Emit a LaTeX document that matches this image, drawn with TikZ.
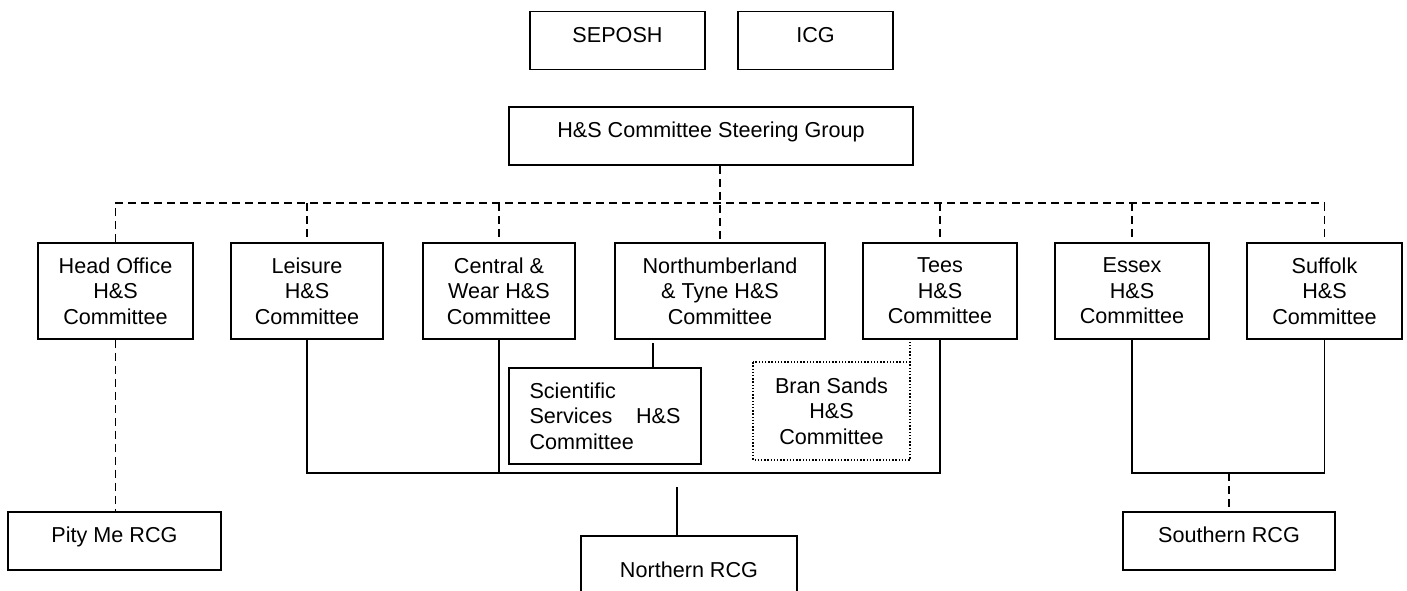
\documentclass[tikz,border=0pt]{standalone}
\usepackage{fontspec}
\setmainfont{Liberation Sans}
\usepackage{tikz}
\usetikzlibrary{calc}

\begin{document}
\begin{tikzpicture}[x=0.5pt,y=-0.5pt,line width=0.9pt,
  box/.style={draw,rectangle,align=center,inner sep=0pt,font=\fontsize{10.8}{12.8}\selectfont},
  cttee/.style={box,minimum width=#1,minimum height=48pt},
  rcg/.style={box,minimum width=#1,minimum height=29pt,text depth=6pt},
  dash line/.style={dash pattern=on 4pt off 2.5pt},
  dot line/.style={line width=0.7pt,dash pattern=on 0.7pt off 0.9pt}]
\useasboundingbox (0,0) rectangle (1407,590);
\node[rcg=87.5pt] (seposh) at (617.5,40.5) {SEPOSH};
\node[rcg=77.5pt] (icg) at (815.5,40.5) {ICG};
\node[rcg=202pt] (steer) at (711,136) {H\&S Committee Steering Group};
\node[cttee=77.5pt] (head) at (115.5,291) {Head Office\\H\&S\\Committee};
\node[cttee=76pt] (leisure) at (307,291) {Leisure\\H\&S\\Committee};
\node[cttee=76pt] (central) at (499,291) {Central \&\\Wear H\&S\\Committee};
\node[cttee=105pt] (north) at (720,291) {Northumberland\\\& Tyne H\&S\\Committee};
\node[cttee=77pt] (tees) at (940,291) {Tees\\H\&S\\Committee};
\node[cttee=77pt] (essex) at (1132,291) {Essex\\H\&S\\Committee};
\node[cttee=77.5pt] (suffolk) at (1324.5,291) {Suffolk\\H\&S\\Committee};
\node[cttee=96pt,align=left,text width=75.5pt] (sci) at (605,416) {Scientific\\Services\hfill H\&S\\Committee};
\node[cttee=77.5pt,draw=none] (bran) at (831.5,411) {Bran Sands\\H\&S\\Committee};
\draw[dot line] (bran.north west) rectangle (bran.south east);
\node[rcg=106.5pt] (pity) at (114.5,541) {Pity Me RCG};
\node[rcg=108pt,minimum height=36pt,text depth=2pt] (northern) at (689,572) {Northern RCG};
\node[rcg=106pt] (southern) at (1229,541) {Southern RCG};
% dashed links from the steering group
\coordinate (bus) at (0,203);
\draw[dash line] (north.north |- steer.south) -- (north.north);
\draw[dash line] (head.north) -- (head.north |- bus) -- (suffolk.north |- bus) -- (suffolk.north);
\foreach \n in {leisure,central,tees,essex}
  \draw[dash line] (\n.north |- bus) -- (\n.north);
\draw[dash line] (head.south) -- (head.south |- pity.north);
% northern group
\coordinate (nbus) at (0,473);
\draw (leisure.south) |- (tees.south |- nbus) -- (tees.south);
\draw (central.south) -- (central.south |- nbus);
\coordinate (scistub) at (653,343);
\draw (scistub) -- (scistub |- sci.north);
\draw[dot line] (bran.north east) -- (bran.north east |- tees.south);
\coordinate (nstub) at (677,487);
\draw (nstub) -- (nstub |- northern.north);
% southern group
\draw (essex.south) |- (suffolk.south |- nbus) -- (suffolk.south);
\draw[dash line] (southern.north |- nbus) -- (southern.north);
\end{tikzpicture}
\end{document}
